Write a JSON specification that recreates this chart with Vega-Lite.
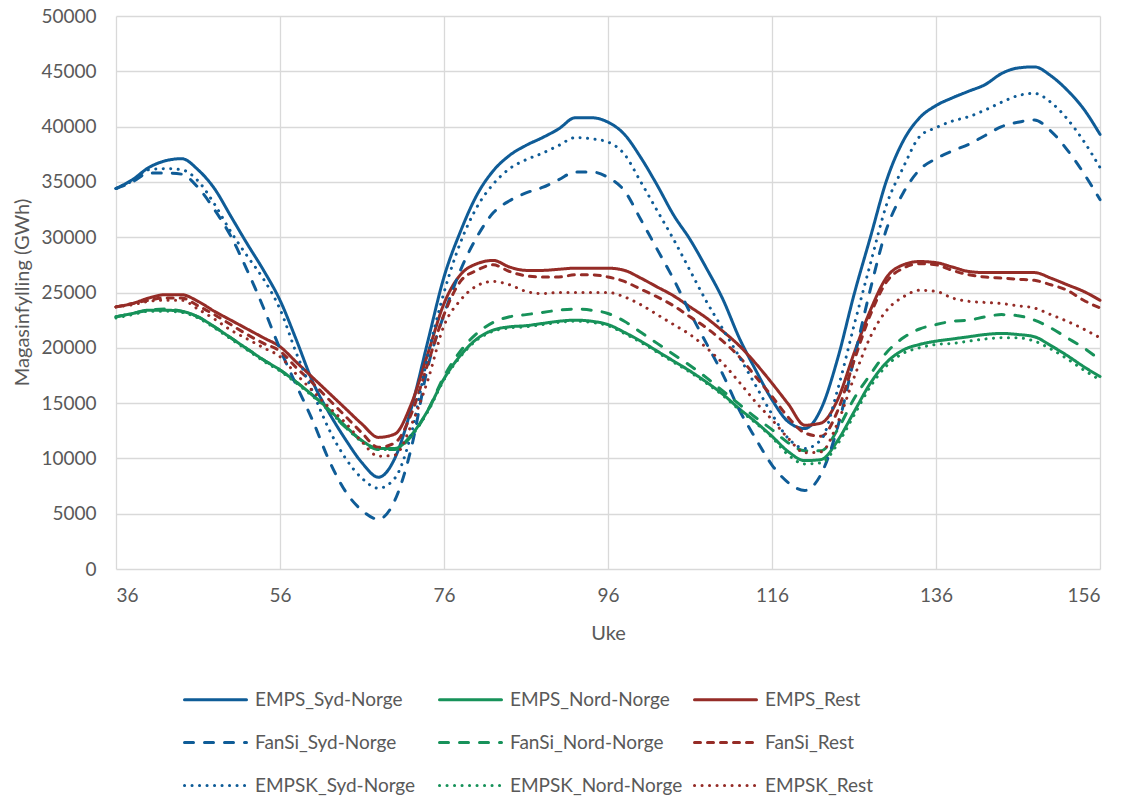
{
  "$schema": "https://vega.github.io/schema/vega-lite/v6.json",
  "width": 984,
  "height": 553,
  "autosize": {"type": "none"},
  "padding": {"left": 116, "top": 16, "right": 22, "bottom": 227},
  "background": "white",
  "config": {
    "font": "Lato",
    "view": {"stroke": null},
    "axis": {
      "domain": false,
      "ticks": false,
      "grid": true,
      "gridColor": "#D9D9D9",
      "gridWidth": 1.3,
      "labelColor": "#595959",
      "labelFont": "Lato",
      "labelFontSize": 19,
      "titleColor": "#595959",
      "titleFont": "Lato",
      "titleFontSize": 20,
      "titleFontWeight": "normal"
    }
  },
  "data": {
    "values": [
      {"w": 36, "EMPS_Syd-Norge": 34400, "EMPS_Nord-Norge": 22800, "EMPS_Rest": 23700, "FanSi_Syd-Norge": 34400, "FanSi_Nord-Norge": 22800, "FanSi_Rest": 23700, "EMPSK_Syd-Norge": 34400, "EMPSK_Nord-Norge": 22700, "EMPSK_Rest": 23700},
      {"w": 38, "EMPS_Syd-Norge": 35200, "EMPS_Nord-Norge": 23100, "EMPS_Rest": 24000, "FanSi_Syd-Norge": 35000, "FanSi_Nord-Norge": 23100, "FanSi_Rest": 24000, "EMPSK_Syd-Norge": 35100, "EMPSK_Nord-Norge": 23000, "EMPSK_Rest": 23900},
      {"w": 40, "EMPS_Syd-Norge": 36300, "EMPS_Nord-Norge": 23400, "EMPS_Rest": 24500, "FanSi_Syd-Norge": 35800, "FanSi_Nord-Norge": 23400, "FanSi_Rest": 24300, "EMPSK_Syd-Norge": 36100, "EMPSK_Nord-Norge": 23300, "EMPSK_Rest": 24200},
      {"w": 42, "EMPS_Syd-Norge": 36900, "EMPS_Nord-Norge": 23400, "EMPS_Rest": 24800, "FanSi_Syd-Norge": 35800, "FanSi_Nord-Norge": 23500, "FanSi_Rest": 24500, "EMPSK_Syd-Norge": 36200, "EMPSK_Nord-Norge": 23300, "EMPSK_Rest": 24300},
      {"w": 44, "EMPS_Syd-Norge": 37100, "EMPS_Nord-Norge": 23300, "EMPS_Rest": 24800, "FanSi_Syd-Norge": 35700, "FanSi_Nord-Norge": 23300, "FanSi_Rest": 24500, "EMPSK_Syd-Norge": 36100, "EMPSK_Nord-Norge": 23200, "EMPSK_Rest": 24300},
      {"w": 46, "EMPS_Syd-Norge": 36100, "EMPS_Nord-Norge": 22800, "EMPS_Rest": 24200, "FanSi_Syd-Norge": 34500, "FanSi_Nord-Norge": 22800, "FanSi_Rest": 23800, "EMPSK_Syd-Norge": 35100, "EMPSK_Nord-Norge": 22700, "EMPSK_Rest": 23500},
      {"w": 48, "EMPS_Syd-Norge": 34400, "EMPS_Nord-Norge": 21900, "EMPS_Rest": 23300, "FanSi_Syd-Norge": 32500, "FanSi_Nord-Norge": 21900, "FanSi_Rest": 23000, "EMPSK_Syd-Norge": 33000, "EMPSK_Nord-Norge": 21800, "EMPSK_Rest": 22600},
      {"w": 50, "EMPS_Syd-Norge": 31900, "EMPS_Nord-Norge": 20900, "EMPS_Rest": 22500, "FanSi_Syd-Norge": 30100, "FanSi_Nord-Norge": 20900, "FanSi_Rest": 22100, "EMPSK_Syd-Norge": 30500, "EMPSK_Nord-Norge": 20800, "EMPSK_Rest": 21600},
      {"w": 52, "EMPS_Syd-Norge": 29400, "EMPS_Nord-Norge": 19900, "EMPS_Rest": 21700, "FanSi_Syd-Norge": 27000, "FanSi_Nord-Norge": 19900, "FanSi_Rest": 21200, "EMPSK_Syd-Norge": 28300, "EMPSK_Nord-Norge": 19800, "EMPSK_Rest": 20800},
      {"w": 54, "EMPS_Syd-Norge": 27000, "EMPS_Nord-Norge": 18900, "EMPS_Rest": 20900, "FanSi_Syd-Norge": 23600, "FanSi_Nord-Norge": 18900, "FanSi_Rest": 20400, "EMPSK_Syd-Norge": 26200, "EMPSK_Nord-Norge": 18800, "EMPSK_Rest": 20000},
      {"w": 56, "EMPS_Syd-Norge": 24300, "EMPS_Nord-Norge": 18000, "EMPS_Rest": 20100, "FanSi_Syd-Norge": 19900, "FanSi_Nord-Norge": 18000, "FanSi_Rest": 19700, "EMPSK_Syd-Norge": 23500, "EMPSK_Nord-Norge": 17900, "EMPSK_Rest": 19200},
      {"w": 58, "EMPS_Syd-Norge": 20700, "EMPS_Nord-Norge": 16900, "EMPS_Rest": 18700, "FanSi_Syd-Norge": 16600, "FanSi_Nord-Norge": 16900, "FanSi_Rest": 18200, "EMPSK_Syd-Norge": 19500, "EMPSK_Nord-Norge": 16800, "EMPSK_Rest": 17600},
      {"w": 60, "EMPS_Syd-Norge": 16900, "EMPS_Nord-Norge": 15700, "EMPS_Rest": 17300, "FanSi_Syd-Norge": 13400, "FanSi_Nord-Norge": 15700, "FanSi_Rest": 16800, "EMPSK_Syd-Norge": 16000, "EMPSK_Nord-Norge": 15600, "EMPSK_Rest": 16100},
      {"w": 62, "EMPS_Syd-Norge": 14100, "EMPS_Nord-Norge": 14400, "EMPS_Rest": 15900, "FanSi_Syd-Norge": 9800, "FanSi_Nord-Norge": 14300, "FanSi_Rest": 15300, "EMPSK_Syd-Norge": 12600, "EMPSK_Nord-Norge": 14300, "EMPSK_Rest": 14600},
      {"w": 64, "EMPS_Syd-Norge": 11700, "EMPS_Nord-Norge": 12900, "EMPS_Rest": 14500, "FanSi_Syd-Norge": 7000, "FanSi_Nord-Norge": 12800, "FanSi_Rest": 13800, "EMPSK_Syd-Norge": 10000, "EMPSK_Nord-Norge": 12800, "EMPSK_Rest": 13200},
      {"w": 66, "EMPS_Syd-Norge": 9600, "EMPS_Nord-Norge": 11600, "EMPS_Rest": 13100, "FanSi_Syd-Norge": 5300, "FanSi_Nord-Norge": 11600, "FanSi_Rest": 12300, "EMPSK_Syd-Norge": 8200, "EMPSK_Nord-Norge": 11500, "EMPSK_Rest": 11500},
      {"w": 68, "EMPS_Syd-Norge": 8300, "EMPS_Nord-Norge": 10900, "EMPS_Rest": 11900, "FanSi_Syd-Norge": 4500, "FanSi_Nord-Norge": 10800, "FanSi_Rest": 11000, "EMPSK_Syd-Norge": 7300, "EMPSK_Nord-Norge": 10800, "EMPSK_Rest": 10200},
      {"w": 70, "EMPS_Syd-Norge": 10000, "EMPS_Nord-Norge": 10900, "EMPS_Rest": 12200, "FanSi_Syd-Norge": 6200, "FanSi_Nord-Norge": 10800, "FanSi_Rest": 11400, "EMPSK_Syd-Norge": 8200, "EMPSK_Nord-Norge": 10800, "EMPSK_Rest": 10300},
      {"w": 72, "EMPS_Syd-Norge": 14500, "EMPS_Nord-Norge": 12100, "EMPS_Rest": 14900, "FanSi_Syd-Norge": 10900, "FanSi_Nord-Norge": 12000, "FanSi_Rest": 14000, "EMPSK_Syd-Norge": 12200, "EMPSK_Nord-Norge": 12000, "EMPSK_Rest": 13000},
      {"w": 74, "EMPS_Syd-Norge": 20500, "EMPS_Nord-Norge": 14300, "EMPS_Rest": 19400, "FanSi_Syd-Norge": 18200, "FanSi_Nord-Norge": 14300, "FanSi_Rest": 18500, "EMPSK_Syd-Norge": 19200, "EMPSK_Nord-Norge": 14200, "EMPSK_Rest": 17000},
      {"w": 76, "EMPS_Syd-Norge": 26400, "EMPS_Nord-Norge": 17200, "EMPS_Rest": 24000, "FanSi_Syd-Norge": 23000, "FanSi_Nord-Norge": 17400, "FanSi_Rest": 23000, "EMPSK_Syd-Norge": 25000, "EMPSK_Nord-Norge": 17100, "EMPSK_Rest": 22000},
      {"w": 78, "EMPS_Syd-Norge": 30500, "EMPS_Nord-Norge": 19300, "EMPS_Rest": 26600, "FanSi_Syd-Norge": 27000, "FanSi_Nord-Norge": 19700, "FanSi_Rest": 26000, "EMPSK_Syd-Norge": 29500, "EMPSK_Nord-Norge": 19200, "EMPSK_Rest": 24300},
      {"w": 80, "EMPS_Syd-Norge": 33800, "EMPS_Nord-Norge": 20800, "EMPS_Rest": 27600, "FanSi_Syd-Norge": 30000, "FanSi_Nord-Norge": 21300, "FanSi_Rest": 27000, "EMPSK_Syd-Norge": 32700, "EMPSK_Nord-Norge": 20700, "EMPSK_Rest": 25600},
      {"w": 82, "EMPS_Syd-Norge": 36000, "EMPS_Nord-Norge": 21600, "EMPS_Rest": 27900, "FanSi_Syd-Norge": 32200, "FanSi_Nord-Norge": 22300, "FanSi_Rest": 27500, "EMPSK_Syd-Norge": 34800, "EMPSK_Nord-Norge": 21500, "EMPSK_Rest": 26000},
      {"w": 84, "EMPS_Syd-Norge": 37400, "EMPS_Nord-Norge": 21900, "EMPS_Rest": 27300, "FanSi_Syd-Norge": 33300, "FanSi_Nord-Norge": 22800, "FanSi_Rest": 26900, "EMPSK_Syd-Norge": 36200, "EMPSK_Nord-Norge": 21800, "EMPSK_Rest": 25700},
      {"w": 86, "EMPS_Syd-Norge": 38300, "EMPS_Nord-Norge": 22000, "EMPS_Rest": 27000, "FanSi_Syd-Norge": 34000, "FanSi_Nord-Norge": 23000, "FanSi_Rest": 26500, "EMPSK_Syd-Norge": 37000, "EMPSK_Nord-Norge": 21900, "EMPSK_Rest": 25100},
      {"w": 88, "EMPS_Syd-Norge": 39000, "EMPS_Nord-Norge": 22200, "EMPS_Rest": 27000, "FanSi_Syd-Norge": 34500, "FanSi_Nord-Norge": 23200, "FanSi_Rest": 26400, "EMPSK_Syd-Norge": 37600, "EMPSK_Nord-Norge": 22100, "EMPSK_Rest": 24900},
      {"w": 90, "EMPS_Syd-Norge": 39800, "EMPS_Nord-Norge": 22400, "EMPS_Rest": 27100, "FanSi_Syd-Norge": 35200, "FanSi_Nord-Norge": 23400, "FanSi_Rest": 26400, "EMPSK_Syd-Norge": 38300, "EMPSK_Nord-Norge": 22300, "EMPSK_Rest": 25000},
      {"w": 92, "EMPS_Syd-Norge": 40800, "EMPS_Nord-Norge": 22500, "EMPS_Rest": 27200, "FanSi_Syd-Norge": 35900, "FanSi_Nord-Norge": 23500, "FanSi_Rest": 26600, "EMPSK_Syd-Norge": 39000, "EMPSK_Nord-Norge": 22400, "EMPSK_Rest": 25000},
      {"w": 94, "EMPS_Syd-Norge": 40800, "EMPS_Nord-Norge": 22400, "EMPS_Rest": 27200, "FanSi_Syd-Norge": 35900, "FanSi_Nord-Norge": 23400, "FanSi_Rest": 26600, "EMPSK_Syd-Norge": 38900, "EMPSK_Nord-Norge": 22300, "EMPSK_Rest": 25000},
      {"w": 96, "EMPS_Syd-Norge": 40400, "EMPS_Nord-Norge": 22100, "EMPS_Rest": 27200, "FanSi_Syd-Norge": 35400, "FanSi_Nord-Norge": 23100, "FanSi_Rest": 26400, "EMPSK_Syd-Norge": 38600, "EMPSK_Nord-Norge": 22000, "EMPSK_Rest": 25000},
      {"w": 98, "EMPS_Syd-Norge": 39300, "EMPS_Nord-Norge": 21400, "EMPS_Rest": 27000, "FanSi_Syd-Norge": 34200, "FanSi_Nord-Norge": 22400, "FanSi_Rest": 26000, "EMPSK_Syd-Norge": 37500, "EMPSK_Nord-Norge": 21300, "EMPSK_Rest": 24600},
      {"w": 100, "EMPS_Syd-Norge": 37200, "EMPS_Nord-Norge": 20600, "EMPS_Rest": 26300, "FanSi_Syd-Norge": 31600, "FanSi_Nord-Norge": 21400, "FanSi_Rest": 25300, "EMPSK_Syd-Norge": 35000, "EMPSK_Nord-Norge": 20500, "EMPSK_Rest": 23900},
      {"w": 102, "EMPS_Syd-Norge": 34700, "EMPS_Nord-Norge": 19700, "EMPS_Rest": 25500, "FanSi_Syd-Norge": 28900, "FanSi_Nord-Norge": 20400, "FanSi_Rest": 24600, "EMPSK_Syd-Norge": 32400, "EMPSK_Nord-Norge": 19600, "EMPSK_Rest": 23000},
      {"w": 104, "EMPS_Syd-Norge": 32000, "EMPS_Nord-Norge": 18800, "EMPS_Rest": 24700, "FanSi_Syd-Norge": 26200, "FanSi_Nord-Norge": 19400, "FanSi_Rest": 23800, "EMPSK_Syd-Norge": 29800, "EMPSK_Nord-Norge": 18700, "EMPSK_Rest": 22100},
      {"w": 106, "EMPS_Syd-Norge": 29800, "EMPS_Nord-Norge": 17900, "EMPS_Rest": 23700, "FanSi_Syd-Norge": 23200, "FanSi_Nord-Norge": 18400, "FanSi_Rest": 22800, "EMPSK_Syd-Norge": 27000, "EMPSK_Nord-Norge": 17800, "EMPSK_Rest": 21200},
      {"w": 108, "EMPS_Syd-Norge": 27200, "EMPS_Nord-Norge": 16900, "EMPS_Rest": 22700, "FanSi_Syd-Norge": 20400, "FanSi_Nord-Norge": 17300, "FanSi_Rest": 21800, "EMPSK_Syd-Norge": 24200, "EMPSK_Nord-Norge": 16800, "EMPSK_Rest": 20000},
      {"w": 110, "EMPS_Syd-Norge": 24400, "EMPS_Nord-Norge": 15800, "EMPS_Rest": 21500, "FanSi_Syd-Norge": 17600, "FanSi_Nord-Norge": 16100, "FanSi_Rest": 20600, "EMPSK_Syd-Norge": 21700, "EMPSK_Nord-Norge": 15700, "EMPSK_Rest": 18600},
      {"w": 112, "EMPS_Syd-Norge": 20900, "EMPS_Nord-Norge": 14500, "EMPS_Rest": 20200, "FanSi_Syd-Norge": 14400, "FanSi_Nord-Norge": 14900, "FanSi_Rest": 19200, "EMPSK_Syd-Norge": 19200, "EMPSK_Nord-Norge": 14400, "EMPSK_Rest": 16900},
      {"w": 114, "EMPS_Syd-Norge": 18000, "EMPS_Nord-Norge": 13300, "EMPS_Rest": 18600, "FanSi_Syd-Norge": 11800, "FanSi_Nord-Norge": 13700, "FanSi_Rest": 17400, "EMPSK_Syd-Norge": 16600, "EMPSK_Nord-Norge": 13200, "EMPSK_Rest": 15100},
      {"w": 116, "EMPS_Syd-Norge": 15300, "EMPS_Nord-Norge": 12000, "EMPS_Rest": 16800, "FanSi_Syd-Norge": 9400, "FanSi_Nord-Norge": 12600, "FanSi_Rest": 15600, "EMPSK_Syd-Norge": 14000, "EMPSK_Nord-Norge": 11900, "EMPSK_Rest": 13500},
      {"w": 118, "EMPS_Syd-Norge": 13300, "EMPS_Nord-Norge": 10600, "EMPS_Rest": 14900, "FanSi_Syd-Norge": 7800, "FanSi_Nord-Norge": 11400, "FanSi_Rest": 13700, "EMPSK_Syd-Norge": 11800, "EMPSK_Nord-Norge": 10300, "EMPSK_Rest": 11800},
      {"w": 120, "EMPS_Syd-Norge": 12700, "EMPS_Nord-Norge": 9800, "EMPS_Rest": 13000, "FanSi_Syd-Norge": 7100, "FanSi_Nord-Norge": 10700, "FanSi_Rest": 12300, "EMPSK_Syd-Norge": 10900, "EMPSK_Nord-Norge": 9500, "EMPSK_Rest": 10500},
      {"w": 122, "EMPS_Syd-Norge": 14500, "EMPS_Nord-Norge": 9900, "EMPS_Rest": 13200, "FanSi_Syd-Norge": 8600, "FanSi_Nord-Norge": 10700, "FanSi_Rest": 12000, "EMPSK_Syd-Norge": 11700, "EMPSK_Nord-Norge": 9600, "EMPSK_Rest": 10600},
      {"w": 124, "EMPS_Syd-Norge": 19000, "EMPS_Nord-Norge": 11600, "EMPS_Rest": 15300, "FanSi_Syd-Norge": 12800, "FanSi_Nord-Norge": 12600, "FanSi_Rest": 14300, "EMPSK_Syd-Norge": 16200, "EMPSK_Nord-Norge": 11300, "EMPSK_Rest": 13200},
      {"w": 126, "EMPS_Syd-Norge": 24800, "EMPS_Nord-Norge": 14200, "EMPS_Rest": 19500, "FanSi_Syd-Norge": 19000, "FanSi_Nord-Norge": 15400, "FanSi_Rest": 18800, "EMPSK_Syd-Norge": 22000, "EMPSK_Nord-Norge": 13900, "EMPSK_Rest": 17300},
      {"w": 128, "EMPS_Syd-Norge": 30000, "EMPS_Nord-Norge": 16800, "EMPS_Rest": 23400, "FanSi_Syd-Norge": 25300, "FanSi_Nord-Norge": 17600, "FanSi_Rest": 23000, "EMPSK_Syd-Norge": 27600, "EMPSK_Nord-Norge": 16500, "EMPSK_Rest": 21000},
      {"w": 130, "EMPS_Syd-Norge": 35200, "EMPS_Nord-Norge": 18700, "EMPS_Rest": 26400, "FanSi_Syd-Norge": 30800, "FanSi_Nord-Norge": 19600, "FanSi_Rest": 26000, "EMPSK_Syd-Norge": 33000, "EMPSK_Nord-Norge": 18400, "EMPSK_Rest": 23400},
      {"w": 132, "EMPS_Syd-Norge": 38700, "EMPS_Nord-Norge": 19800, "EMPS_Rest": 27500, "FanSi_Syd-Norge": 34000, "FanSi_Nord-Norge": 20900, "FanSi_Rest": 27200, "EMPSK_Syd-Norge": 36300, "EMPSK_Nord-Norge": 19500, "EMPSK_Rest": 24600},
      {"w": 134, "EMPS_Syd-Norge": 40800, "EMPS_Nord-Norge": 20300, "EMPS_Rest": 27800, "FanSi_Syd-Norge": 36100, "FanSi_Nord-Norge": 21700, "FanSi_Rest": 27600, "EMPSK_Syd-Norge": 39100, "EMPSK_Nord-Norge": 20000, "EMPSK_Rest": 25200},
      {"w": 136, "EMPS_Syd-Norge": 41900, "EMPS_Nord-Norge": 20600, "EMPS_Rest": 27700, "FanSi_Syd-Norge": 37100, "FanSi_Nord-Norge": 22100, "FanSi_Rest": 27500, "EMPSK_Syd-Norge": 39900, "EMPSK_Nord-Norge": 20300, "EMPSK_Rest": 25100},
      {"w": 138, "EMPS_Syd-Norge": 42600, "EMPS_Nord-Norge": 20800, "EMPS_Rest": 27300, "FanSi_Syd-Norge": 37800, "FanSi_Nord-Norge": 22400, "FanSi_Rest": 27000, "EMPSK_Syd-Norge": 40500, "EMPSK_Nord-Norge": 20400, "EMPSK_Rest": 24500},
      {"w": 140, "EMPS_Syd-Norge": 43200, "EMPS_Nord-Norge": 21000, "EMPS_Rest": 26900, "FanSi_Syd-Norge": 38400, "FanSi_Nord-Norge": 22500, "FanSi_Rest": 26600, "EMPSK_Syd-Norge": 40900, "EMPSK_Nord-Norge": 20600, "EMPSK_Rest": 24200},
      {"w": 142, "EMPS_Syd-Norge": 43800, "EMPS_Nord-Norge": 21200, "EMPS_Rest": 26800, "FanSi_Syd-Norge": 39200, "FanSi_Nord-Norge": 22800, "FanSi_Rest": 26400, "EMPSK_Syd-Norge": 41500, "EMPSK_Nord-Norge": 20800, "EMPSK_Rest": 24100},
      {"w": 144, "EMPS_Syd-Norge": 44800, "EMPS_Nord-Norge": 21300, "EMPS_Rest": 26800, "FanSi_Syd-Norge": 40000, "FanSi_Nord-Norge": 23000, "FanSi_Rest": 26300, "EMPSK_Syd-Norge": 42200, "EMPSK_Nord-Norge": 20900, "EMPSK_Rest": 24000},
      {"w": 146, "EMPS_Syd-Norge": 45300, "EMPS_Nord-Norge": 21200, "EMPS_Rest": 26800, "FanSi_Syd-Norge": 40400, "FanSi_Nord-Norge": 22900, "FanSi_Rest": 26200, "EMPSK_Syd-Norge": 42800, "EMPSK_Nord-Norge": 20900, "EMPSK_Rest": 23800},
      {"w": 148, "EMPS_Syd-Norge": 45400, "EMPS_Nord-Norge": 21000, "EMPS_Rest": 26800, "FanSi_Syd-Norge": 40600, "FanSi_Nord-Norge": 22500, "FanSi_Rest": 26100, "EMPSK_Syd-Norge": 43000, "EMPSK_Nord-Norge": 20600, "EMPSK_Rest": 23600},
      {"w": 150, "EMPS_Syd-Norge": 44600, "EMPS_Nord-Norge": 20200, "EMPS_Rest": 26300, "FanSi_Syd-Norge": 39600, "FanSi_Nord-Norge": 21800, "FanSi_Rest": 25700, "EMPSK_Syd-Norge": 42200, "EMPSK_Nord-Norge": 19900, "EMPSK_Rest": 23000},
      {"w": 152, "EMPS_Syd-Norge": 43300, "EMPS_Nord-Norge": 19300, "EMPS_Rest": 25700, "FanSi_Syd-Norge": 37900, "FanSi_Nord-Norge": 20900, "FanSi_Rest": 25200, "EMPSK_Syd-Norge": 40700, "EMPSK_Nord-Norge": 19000, "EMPSK_Rest": 22400},
      {"w": 154, "EMPS_Syd-Norge": 41600, "EMPS_Nord-Norge": 18300, "EMPS_Rest": 25100, "FanSi_Syd-Norge": 35800, "FanSi_Nord-Norge": 20000, "FanSi_Rest": 24300, "EMPSK_Syd-Norge": 38700, "EMPSK_Nord-Norge": 18000, "EMPSK_Rest": 21700},
      {"w": 156, "EMPS_Syd-Norge": 39300, "EMPS_Nord-Norge": 17400, "EMPS_Rest": 24300, "FanSi_Syd-Norge": 33400, "FanSi_Nord-Norge": 18900, "FanSi_Rest": 23600, "EMPSK_Syd-Norge": 36300, "EMPSK_Nord-Norge": 17100, "EMPSK_Rest": 20900}
    ]
  },
  "transform": [
    {
      "fold": ["EMPS_Syd-Norge", "EMPS_Nord-Norge", "EMPS_Rest", "FanSi_Syd-Norge", "FanSi_Nord-Norge", "FanSi_Rest", "EMPSK_Syd-Norge", "EMPSK_Nord-Norge", "EMPSK_Rest"],
      "as": ["serie", "GWh"]
    }
  ],
  "mark": {"type": "line", "interpolate": "monotone", "strokeCap": "round"},
  "encoding": {
    "x": {
      "field": "w",
      "type": "quantitative",
      "scale": {"domain": [36, 156], "nice": false},
      "axis": {
        "values": [36, 56, 76, 96, 116, 136, 156],
        "title": "Uke",
        "labelPadding": 17,
        "titleX": 492,
        "titleY": 64,
        "titleBaseline": "middle",
        "titleAlign": "center"
      }
    },
    "y": {
      "field": "GWh",
      "type": "quantitative",
      "scale": {"domain": [0, 50000], "nice": false},
      "axis": {
        "values": [0, 5000, 10000, 15000, 20000, 25000, 30000, 35000, 40000, 45000, 50000],
        "format": "d",
        "title": "Magasinfylling (GWh)",
        "labelPadding": 20,
        "titleX": -94,
        "titleY": 276,
        "titleAngle": 270,
        "titleAlign": "center",
        "titleBaseline": "middle"
      }
    },
    "color": {
      "field": "serie",
      "type": "nominal",
      "scale": {
        "domain": ["EMPS_Syd-Norge", "EMPS_Nord-Norge", "EMPS_Rest", "FanSi_Syd-Norge", "FanSi_Nord-Norge", "FanSi_Rest", "EMPSK_Syd-Norge", "EMPSK_Nord-Norge", "EMPSK_Rest"],
        "range": ["#0F5C97", "#17925A", "#952C27", "#0F5C97", "#17925A", "#952C27", "#0F5C97", "#17925A", "#952C27"]
      },
      "legend": {
        "title": null,
        "orient": "none",
        "legendX": 67,
        "legendY": 651,
        "direction": "horizontal",
        "columns": 3,
        "gridAlign": "all",
        "columnPadding": 5,
        "rowPadding": -25,
        "padding": 0,
        "symbolType": "stroke",
        "symbolSize": 3844,
        "labelOffset": 7,
        "labelFont": "Lato",
        "labelFontSize": 19,
        "labelColor": "#595959",
        "labelLimit": 300,
        "encode": {
          "symbols": {"update": {"strokeCap": {"value": "round"}}}
        }
      }
    },
    "strokeDash": {
      "field": "serie",
      "type": "nominal",
      "scale": {
        "domain": ["EMPS_Syd-Norge", "EMPS_Nord-Norge", "EMPS_Rest", "FanSi_Syd-Norge", "FanSi_Nord-Norge", "FanSi_Rest", "EMPSK_Syd-Norge", "EMPSK_Nord-Norge", "EMPSK_Rest"],
        "range": [[1, 0], [1, 0], [1, 0], [9, 11], [9, 11], [6, 7], [0.1, 7.4], [0.1, 7.4], [0.1, 7.4]]
      }
    },
    "strokeWidth": {
      "field": "serie",
      "type": "nominal",
      "scale": {
        "domain": ["EMPS_Syd-Norge", "EMPS_Nord-Norge", "EMPS_Rest", "FanSi_Syd-Norge", "FanSi_Nord-Norge", "FanSi_Rest", "EMPSK_Syd-Norge", "EMPSK_Nord-Norge", "EMPSK_Rest"],
        "range": [3, 3, 3, 3, 3, 2.2, 3, 3, 2.8]
      }
    }
  }
}
